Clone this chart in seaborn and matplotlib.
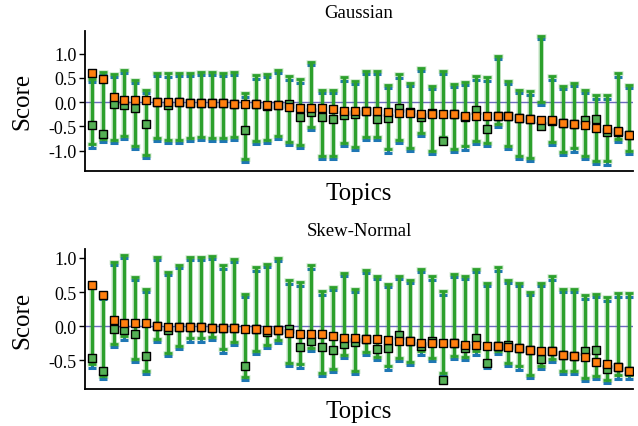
import numpy as np
import pandas as pd
import matplotlib
matplotlib.use("Agg")
import matplotlib.pyplot as plt
import matplotlib.transforms as mtransforms
import seaborn as sns

topics = list(range(1, 51))

# ---- Gaussian panel ----
g_orange = [0.60, 0.47, 0.10, 0.05, 0.05, 0.05, 0.00, 0.00, 0.00, -0.01,
            -0.01, -0.01, -0.01, -0.03, -0.03, -0.03, -0.05, -0.05, -0.09, -0.11,
            -0.12, -0.12, -0.14, -0.18, -0.18, -0.18, -0.18, -0.21, -0.23, -0.23,
            -0.24, -0.25, -0.25, -0.25, -0.28, -0.29, -0.29, -0.29, -0.29, -0.32,
            -0.34, -0.36, -0.37, -0.42, -0.44, -0.46, -0.53, -0.56, -0.60, -0.67]
g_green = [-0.47, -0.65, -0.04, -0.06, -0.11, -0.44, 0.00, -0.05, 0.00, -0.01,
           -0.01, -0.01, -0.01, -0.03, -0.58, -0.04, -0.07, -0.05, -0.03, -0.30,
           -0.21, -0.30, -0.34, -0.27, -0.25, -0.19, -0.34, -0.32, -0.12, -0.21,
           -0.30, -0.23, -0.79, -0.25, -0.31, -0.16, -0.55, -0.29, -0.29, -0.32,
           -0.34, -0.49, -0.38, -0.42, -0.44, -0.36, -0.34, -0.62, -0.61, -0.67]
g_high = [0.48, 0.62, 0.58, 0.66, 0.45, 0.25, 0.61, 0.59, 0.60, 0.61,
          0.63, 0.62, 0.61, 0.63, 0.18, 0.55, 0.58, 0.66, 0.53, 0.47,
          0.83, 0.25, 0.25, 0.51, 0.43, 0.64, 0.64, 0.36, 0.57, 0.40,
          0.71, 0.34, 0.64, 0.38, 0.42, 0.53, 0.51, 0.95, 0.44, 0.25,
          0.22, 1.36, 0.53, 0.34, 0.39, 0.26, 0.14, 0.14, 0.59, 0.36]
g_low = [-0.87, -0.75, -0.77, -0.70, -0.90, -1.08, -0.74, -0.77, -0.77, -0.74,
         -0.72, -0.73, -0.74, -0.72, -1.16, -0.80, -0.77, -0.70, -0.82, -0.88,
         -0.51, -1.10, -1.10, -0.84, -0.92, -0.72, -0.71, -0.97, -0.77, -0.94,
         -0.64, -1.01, -0.71, -0.96, -0.91, -0.80, -0.84, -0.44, -0.90, -1.10,
         -1.14, 0.00, -0.82, -1.02, -0.95, -1.10, -1.21, -1.22, -0.75, -1.00]

# ---- Skew-Normal panel ----
s_orange = [0.60, 0.45, 0.09, 0.05, 0.04, 0.04, 0.00, -0.01, -0.01, -0.01,
            -0.01, -0.02, -0.02, -0.03, -0.04, -0.04, -0.05, -0.06, -0.10, -0.11,
            -0.11, -0.12, -0.15, -0.18, -0.18, -0.19, -0.19, -0.20, -0.22, -0.22,
            -0.24, -0.24, -0.24, -0.24, -0.27, -0.28, -0.29, -0.29, -0.30, -0.32,
            -0.35, -0.36, -0.37, -0.42, -0.43, -0.45, -0.53, -0.56, -0.60, -0.66]
s_green = [-0.47, -0.65, -0.04, -0.05, -0.11, -0.43, 0.00, -0.05, -0.01, -0.01,
           -0.01, -0.02, -0.02, -0.03, -0.59, -0.04, -0.08, -0.06, -0.04, -0.31,
           -0.21, -0.30, -0.35, -0.26, -0.23, -0.19, -0.34, -0.32, -0.13, -0.21,
           -0.29, -0.22, -0.79, -0.24, -0.32, -0.18, -0.54, -0.29, -0.27, -0.32,
           -0.35, -0.48, -0.36, -0.42, -0.43, -0.37, -0.35, -0.62, -0.60, -0.66]
s_high = [0.60, 0.45, 0.94, 1.04, 0.72, 0.54, 1.02, 0.80, 0.90, 1.02,
          1.02, 1.03, 0.89, 0.99, 0.47, 0.86, 0.91, 1.00, 0.67, 0.64,
          0.89, 0.51, 0.57, 0.78, 0.55, 0.82, 0.74, 0.62, 0.74, 0.68,
          0.84, 0.73, 0.51, 0.76, 0.74, 0.84, 0.63, 0.86, 0.68, 0.63,
          0.50, 0.63, 0.73, 0.55, 0.55, 0.45, 0.47, 0.42, 0.48, 0.48]
s_low = [-0.56, -0.73, -0.26, -0.15, -0.48, -0.66, -0.19, -0.39, -0.29, -0.18,
         -0.18, -0.16, -0.34, -0.23, -0.74, -0.36, -0.28, -0.20, -0.54, -0.56,
         -0.32, -0.69, -0.62, -0.42, -0.66, -0.38, -0.45, -0.59, -0.47, -0.52,
         -0.37, -0.47, -0.69, -0.44, -0.45, -0.37, -0.57, -0.36, -0.54, -0.59,
         -0.71, -0.58, -0.48, -0.66, -0.66, -0.76, -0.73, -0.79, -0.72, -0.72]

panels = [
    ("Gaussian", g_orange, g_green, g_high, g_low, [-1.0, -0.5, 0.0, 0.5, 1.0], (-1.41, 1.47)),
    ("Skew-Normal", s_orange, s_green, s_high, s_low, [-0.5, 0.0, 0.5, 1.0], (-0.92, 1.13)),
]

sns.set_theme(style="ticks")
plt.rcParams["font.family"] = ["Liberation Serif", "DejaVu Serif"]
plt.rcParams["text.color"] = "black"
plt.rcParams["axes.labelcolor"] = "black"

fig = plt.figure(figsize=(6.38, 4.27), dpi=100)
W, H = 638, 427
axes_boxes = [(85, 31.7, 633, 171.7), (85, 250, 633, 390)]

GREEN = "#2ca02c"
BLUE = "#1f77b4"
ORANGE = "#ff7f0e"
GREEN_FACE = "#55b055"

for (title, orange, green, high, low, yticks, ylim), (x0, y0, x1, y1) in zip(panels, axes_boxes):
    ax = fig.add_axes([x0 / W, (H - y1) / H, (x1 - x0) / W, (y1 - y0) / H])
    idx = np.arange(len(topics))
    low_a = np.array(low)
    high_a = np.array(high)
    mid = (low_a + high_a) / 2
    half = (high_a - low_a) / 2

    ax.axhline(0, color="#6b68c0", lw=1.0, zorder=1)

    off = mtransforms.ScaledTranslation(0, -3.2 / 100, fig.dpi_scale_trans)
    # blue (lower) caps
    ax.errorbar(idx, mid, yerr=half, fmt="none", ecolor=BLUE, elinewidth=2.2,
                capsize=3.0, capthick=2.2, transform=ax.transData + off, zorder=2)
    # halo
    ax.errorbar(idx, mid, yerr=half, fmt="none", ecolor=GREEN, elinewidth=4.0,
                capsize=3.4, capthick=3.5, alpha=0.2, zorder=3)
    ax.errorbar(idx, mid, yerr=half, fmt="none", ecolor=GREEN, elinewidth=2.4,
                capsize=3.0, capthick=2.0, zorder=4)

    df = pd.DataFrame({"topic": idx, "orange": orange, "green": green})
    sns.scatterplot(data=df, x="topic", y="green", marker="s", s=38, color=GREEN_FACE,
                    edgecolor="black", linewidth=1.0, ax=ax, zorder=5, legend=False)
    sns.scatterplot(data=df, x="topic", y="orange", marker="s", s=38, color=ORANGE,
                    edgecolor="black", linewidth=1.0, ax=ax, zorder=6, legend=False)

    ax.set_xlim(-0.6, len(topics) - 0.65)
    ax.set_ylim(*ylim)
    ax.set_yticks(yticks)
    ax.set_yticklabels([f"{t:.1f}" for t in yticks], fontsize=13)
    ax.set_xticks([])
    ax.set_xlabel("Topics", fontsize=18, labelpad=8)
    ax.set_ylabel("Score", fontsize=18, labelpad=11)
    ax.set_title(title, fontsize=13.5, pad=10, color="black")
    sns.despine(ax=ax)
    for sp in ("left", "bottom"):
        ax.spines[sp].set_color("black")
        ax.spines[sp].set_linewidth(1.3)
    ax.tick_params(axis="y", length=4, width=1.0, color="black", pad=2, labelcolor="black")

fig.savefig("out.png", dpi=100)
